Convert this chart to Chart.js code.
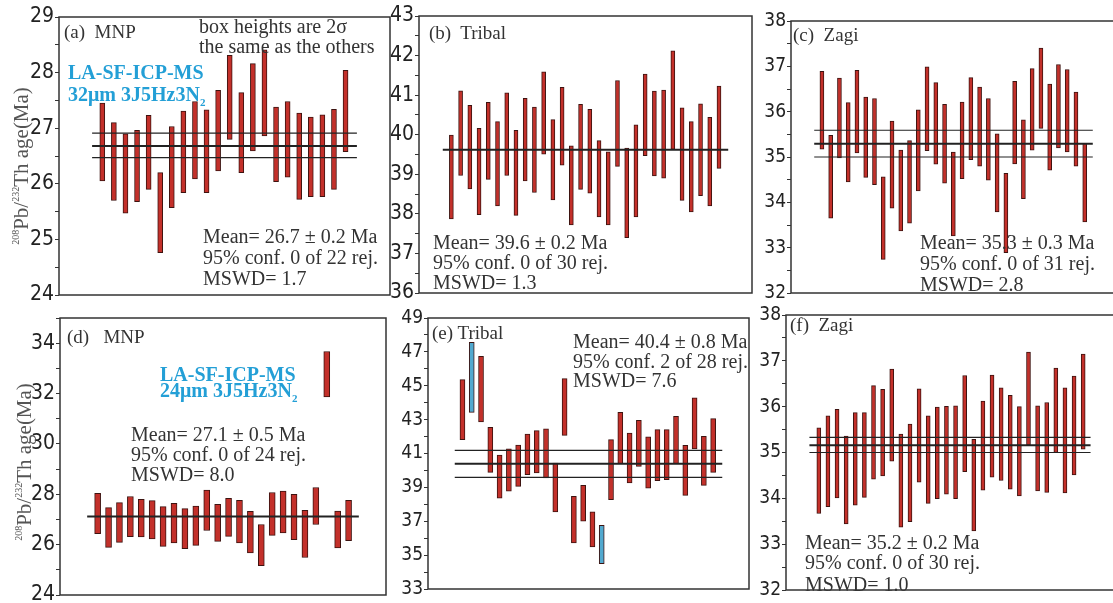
<!DOCTYPE html>
<html>
<head>
<meta charset="utf-8">
<script src="https://cdn.jsdelivr.net/npm/chart.js@4.4.1/dist/chart.umd.min.js"></script>
<style>
    body { margin:0; width:1113px; height:603px; overflow:hidden; background:#fff; position:relative; }
    .box { position:absolute; }
    .txt { position:absolute; font-family:'Liberation Serif','Times New Roman',serif; color:#333; white-space:nowrap; font-size:20px; line-height:21px; }
    .lab { font-size:19px; line-height:20px; }
    .blue { color:#239fd6; font-weight:bold; line-height:20px; }
    .ytitle { position:absolute; font-family:'Liberation Serif',serif; color:#555; font-size:21px; white-space:nowrap; transform:translate(-50%,-50%) rotate(-90deg); }
    .ytitle sup { font-size:10px; vertical-align:9px; }
    sub { font-size:11px; }
</style>
</head>
<body>

<div class="box" style="left:11px;top:3px;width:381px;height:306px"><canvas id="chartA"></canvas></div>
<div class="box" style="left:371px;top:2px;width:383px;height:305px"><canvas id="chartB"></canvas></div>
<div class="box" style="left:743px;top:7px;width:375px;height:300px"><canvas id="chartC"></canvas></div>
<div class="box" style="left:12px;top:304px;width:376px;height:305px"><canvas id="chartD"></canvas></div>
<div class="box" style="left:380px;top:304px;width:371px;height:299px"><canvas id="chartE"></canvas></div>
<div class="box" style="left:738px;top:301px;width:378px;height:303px"><canvas id="chartF"></canvas></div>

<!-- axis titles -->
<div class="ytitle" style="left:21px;top:166px"><sup>208</sup>Pb/<sup>232</sup>Th age(Ma)</div>
<div class="ytitle" style="left:24px;top:462px"><sup>208</sup>Pb/<sup>232</sup>Th age(Ma)</div>

<!-- panel a -->
<div class="txt lab" style="left:64px;top:22px">(a)&nbsp; MNP</div>
<div class="txt" style="left:199px;top:16px">box heights are 2σ</div>
<div class="txt" style="left:199px;top:36px">the same as the others</div>
<div class="txt blue" style="left:68px;top:62px">LA-SF-ICP-MS</div>
<div class="txt blue" style="left:68px;top:84px">32μm 3J5Hz3N<sub>2</sub></div>
<div class="txt" style="left:203px;top:226px">Mean= 26.7 ± 0.2 Ma</div>
<div class="txt" style="left:203px;top:247px">95% conf. 0 of 22 rej.</div>
<div class="txt" style="left:203px;top:268px">MSWD= 1.7</div>

<!-- panel b -->
<div class="txt lab" style="left:429px;top:23px">(b)&nbsp; Tribal</div>
<div class="txt" style="left:433px;top:232px">Mean= 39.6 ± 0.2 Ma</div>
<div class="txt" style="left:433px;top:252px">95% conf. 0 of 30 rej.</div>
<div class="txt" style="left:433px;top:272px">MSWD= 1.3</div>

<!-- panel c -->
<div class="txt lab" style="left:793px;top:25px">(c)&nbsp; Zagi</div>
<div class="txt" style="left:920px;top:232px">Mean= 35.3 ± 0.3 Ma</div>
<div class="txt" style="left:920px;top:253px">95% conf. 0 of 31 rej.</div>
<div class="txt" style="left:920px;top:274px">MSWD= 2.8</div>

<!-- panel d -->
<div class="txt lab" style="left:67px;top:327px">(d)&nbsp;&nbsp; MNP</div>
<div class="txt blue" style="left:160px;top:364px">LA-SF-ICP-MS</div>
<div class="txt blue" style="left:160px;top:380px">24μm 3J5Hz3N<sub>2</sub></div>
<div class="txt" style="left:131px;top:424px">Mean= 27.1 ± 0.5 Ma</div>
<div class="txt" style="left:131px;top:444px">95% conf. 0 of 24 rej.</div>
<div class="txt" style="left:131px;top:464px">MSWD= 8.0</div>

<!-- panel e -->
<div class="txt lab" style="left:432px;top:323px">(e) Tribal</div>
<div class="txt" style="left:573px;top:331px">Mean= 40.4 ± 0.8 Ma</div>
<div class="txt" style="left:573px;top:351px">95% conf. 2 of 28 rej.</div>
<div class="txt" style="left:573px;top:370px">MSWD= 7.6</div>

<!-- panel f -->
<div class="txt lab" style="left:790px;top:315px">(f)&nbsp; Zagi</div>
<div class="txt" style="left:805px;top:532px">Mean= 35.2 ± 0.2 Ma</div>
<div class="txt" style="left:805px;top:552px">95% conf. 0 of 30 rej.</div>
<div class="txt" style="left:805px;top:574px">MSWD= 1.0</div>

<script>
/* ================= DATA ================= */

// (a) MNP, 32um spot
const aLow  = [26.05, 25.7, 25.47, 25.68, 25.9, 24.76, 25.57, 25.84, 26.09, 25.84, 26.23, 26.8, 26.2, 26.59, 26.86, 26.04, 26.12, 25.72, 25.77, 25.77, 25.9, 26.58];
const aHigh = [27.45, 27.1, 26.9, 26.96, 27.23, 26.2, 27.03, 27.31, 27.48, 27.33, 27.68, 28.31, 27.64, 28.16, 28.41, 27.38, 27.48, 27.27, 27.2, 27.24, 27.34, 28.04];
const aMean = [26.91, 26.68, 26.47];

// (b) Tribal
const bLow  = [37.87, 38.97, 38.63, 37.98, 38.87, 38.2, 38.97, 37.96, 38.83, 38.54, 39.51, 38.35, 39.23, 37.72, 38.62, 38.52, 37.92, 37.72, 39.2, 37.4, 37.92, 39.47, 38.96, 38.9, 39.63, 38.34, 38.05, 38.46, 38.2, 39.15];
const bHigh = [39.99, 41.11, 40.74, 40.16, 40.82, 40.33, 41.06, 40.11, 40.92, 40.7, 41.59, 40.38, 41.2, 39.72, 40.77, 40.64, 39.85, 39.57, 41.37, 39.66, 40.25, 41.53, 41.1, 41.13, 42.12, 40.68, 40.33, 40.78, 40.44, 41.23];
const bMean = [39.62];

// (c) Zagi
const cLow  = [35.17, 33.65, 34.98, 34.45, 35.09, 34.55, 34.39, 32.74, 33.87, 33.37, 33.54, 34.25, 35.14, 34.84, 34.42, 33.26, 34.52, 34.94, 34.8, 34.49, 33.79, 32.89, 34.85, 34.08, 35.15, 35.63, 34.71, 35.2, 35.11, 34.8, 33.57];
const cHigh = [36.89, 35.48, 36.74, 36.2, 36.91, 36.32, 36.29, 34.56, 35.79, 35.15, 35.36, 36.04, 36.99, 36.64, 36.16, 35.11, 36.21, 36.75, 36.54, 36.29, 35.51, 34.64, 36.67, 35.82, 36.95, 37.4, 36.61, 37.04, 36.93, 36.43, 35.3];
const cMean = [35.59, 35.29, 35.0];

// (d) MNP, 24um spot
const dLow  = [26.44, 25.89, 26.09, 26.32, 26.31, 26.23, 25.93, 26.07, 25.84, 25.97, 26.56, 26.13, 26.33, 26.07, 25.67, 25.16, 26.37, 26.47, 26.2, 25.49, 26.8, 31.87, 25.87, 26.16];
const dHigh = [28.04, 27.47, 27.67, 27.91, 27.8, 27.75, 27.51, 27.64, 27.43, 27.53, 28.17, 27.6, 27.84, 27.76, 27.32, 26.8, 28.07, 28.13, 28.0, 27.36, 28.27, 33.67, 27.33, 27.76];
const dMean = [27.12];

// (e) Tribal
const eLow  = [41.82, 43.43, 42.86, 39.89, 38.37, 38.77, 39.06, 39.75, 39.85, 39.56, 37.55, 42.07, 35.72, 37.0, 35.48, 34.5, 38.28, 40.4, 39.26, 40.24, 38.96, 39.4, 39.46, 40.4, 38.53, 41.27, 39.12, 39.89];
const eHigh = [45.36, 47.57, 46.74, 42.55, 40.91, 41.27, 41.5, 42.15, 42.35, 42.45, 40.44, 45.42, 38.47, 39.12, 37.55, 36.76, 41.82, 43.43, 42.2, 42.96, 41.98, 42.41, 42.41, 43.2, 41.48, 44.28, 42.02, 43.06];
const eMean = [41.19, 40.4, 39.59];
const eRejected = [2, 16];

// (f) Zagi
const fLow  = [33.67, 33.82, 34.01, 33.44, 33.85, 34.02, 34.42, 34.49, 34.81, 33.37, 33.49, 34.35, 33.89, 33.99, 34.09, 33.99, 34.58, 33.29, 34.18, 34.46, 34.39, 34.2, 34.05, 35.16, 34.16, 34.13, 35.0, 34.12, 34.51, 35.07];
const fHigh = [35.54, 35.8, 35.94, 35.36, 35.87, 35.87, 36.46, 36.38, 36.82, 35.4, 35.62, 36.39, 35.8, 35.99, 36.01, 36.02, 36.68, 35.29, 36.12, 36.69, 36.41, 36.25, 36.0, 37.19, 36.02, 36.09, 36.84, 36.41, 36.67, 37.15];
const fMean = [35.33, 35.16, 35.0];

/* ================= HELPERS ================= */

const RED = '#c3302a';
const BLUE = '#52a9cf';

// frame round the plot area
const framePlugin = {
    id: 'frame',
    afterDatasetsDraw(chart) {
        const a = chart.chartArea;
        const ctx = chart.ctx;
        ctx.save();
        ctx.strokeStyle = '#333';
        ctx.lineWidth = 1.5;
        ctx.strokeRect(a.left, a.top, a.right - a.left, a.bottom - a.top);
        ctx.restore();
    }
};

function drawPanel(id, low, high, means, o) {

    const rejected = o.rejected || [];

    const bars = {
        type: 'bar',
        data: low.map((lo, i) => ({ x: i + 1, y: [lo, high[i]] })),
        backgroundColor: low.map((lo, i) => rejected.includes(i + 1) ? BLUE : RED),
        borderColor: '#3d1310',
        borderWidth: 1,
        borderSkipped: false,
        barThickness: o.barW,
        order: 1
    };

    const lines = means.map((m, i) => ({
        type: 'line',
        data: [{ x: o.xMin, y: m }, { x: o.xMax, y: m }],
        borderColor: '#222',
        borderWidth: (means.length === 1 || i === 1) ? 2 : 1.2,
        pointRadius: 0,
        order: 0
    }));

    new Chart(document.getElementById(id), {
        type: 'bar',
        data: { datasets: [bars].concat(lines) },
        options: {
            responsive: true,
            maintainAspectRatio: false,
            animation: false,
            layout: { padding: { left: 0, right: 2, top: 14, bottom: 14 } },
            plugins: { legend: { display: false }, tooltip: { enabled: false } },
            scales: {
                x: { type: 'linear', min: o.xMin, max: o.xMax, display: false },
                y: {
                    min: o.yMin,
                    max: o.yMax,
                    afterFit: function(scale) { scale.width = 48; },
                    border: { display: false },
                    grid: { drawOnChartArea: false, drawTicks: true, tickLength: 4, color: '#333' },
                    ticks: {
                        stepSize: o.minor,
                        autoSkip: false,
                        padding: 1,
                        color: '#222',
                        font: { family: "'Liberation Sans Narrow','DejaVu Sans Condensed',sans-serif", size: o.font },
                        callback: function(v) {
                            const k = (v - o.yMin) / o.major;
                            return Math.abs(k - Math.round(k)) < 1e-6 ? v : '';
                        }
                    }
                }
            }
        },
        plugins: [framePlugin]
    });
}

/* ================= PANELS ================= */

drawPanel('chartA', aLow, aHigh, aMean, { xMin: 0.12, xMax: 22.98, yMin: 24, yMax: 29, major: 1, minor: 0.5, font: 21, barW: 5 });
drawPanel('chartB', bLow, bHigh, bMean, { xMin: 0.07, xMax: 31.0, yMin: 36, yMax: 43, major: 1, minor: 0.5, font: 21, barW: 4 });
drawPanel('chartC', cLow, cHigh, cMean, { xMin: 0.12, xMax: 31.92, yMin: 32, yMax: 38, major: 1, minor: 0.5, font: 19, barW: 4 });
drawPanel('chartD', dLow, dHigh, dMean, { xMin: 0.04, xMax: 24.94, yMin: 24, yMax: 35, major: 2, minor: 1, font: 21, barW: 6 });
drawPanel('chartE', eLow, eHigh, eMean, { xMin: 0.17, xMax: 28.98, yMin: 33, yMax: 49, major: 2, minor: 1, font: 19, barW: 5, rejected: eRejected });
drawPanel('chartF', fLow, fHigh, fMean, { xMin: -0.03, xMax: 30.81, yMin: 32, yMax: 38, major: 1, minor: 0.5, font: 19, barW: 4 });
</script>
</body>
</html>
